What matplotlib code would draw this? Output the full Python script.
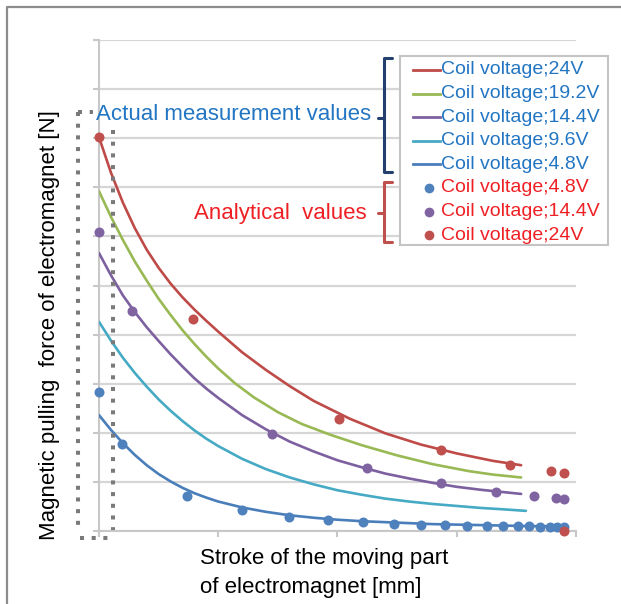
import matplotlib
matplotlib.use("Agg")
import matplotlib.pyplot as plt
from matplotlib.lines import Line2D
from matplotlib.patches import Rectangle

plt.rcParams['font.family'] = ['Liberation Sans', 'DejaVu Sans']

W, H = 621, 604

m24_x = [0, 1, 2, 3, 4, 5, 6, 7, 8, 9, 10, 12, 14, 16, 18, 21, 24, 27, 30, 33, 35.4]
m24_y = [80.2, 73.0, 66.9, 61.7, 57.3, 53.6, 50.4, 47.6, 45.1, 42.8, 40.6, 36.4, 32.8, 29.5,
         26.5, 22.9, 19.9, 17.6, 15.8, 14.3, 13.4]

m192_x = [0, 1, 2, 3, 4, 5, 6, 7, 8, 9, 10, 11.4, 13, 15, 17, 19.4, 22, 25, 28, 31, 33, 35.4]
m192_y = [69.2, 64.0, 59.3, 54.9, 51.0, 47.3, 44.0, 40.9, 38.1, 35.5, 33.1, 30.1, 27.2, 24.2,
          21.8, 19.6, 17.5, 15.4, 13.6, 12.2, 11.5, 10.9]

m144_x = [0, 1, 2, 3, 4, 5, 6, 7, 8, 9, 10, 12, 14, 16, 18, 20, 22, 24, 26, 28, 30, 32, 34, 35.4]
m144_y = [56.6, 52.1, 48.0, 44.6, 41.5, 38.7, 36.0, 33.5, 31.1, 29.0, 27.1, 23.6, 20.7, 18.2,
          16.2, 14.4, 13.0, 11.7, 10.7, 9.8, 9.0, 8.4, 7.9, 7.55]

m96_x = [0, 1, 2, 3, 4, 5, 6, 7, 8, 9, 10, 12, 14, 16, 18, 20, 22, 24, 26, 28, 30, 32, 34, 35.8]
m96_y = [42.6, 38.8, 35.3, 32.2, 29.4, 26.8, 24.5, 22.4, 20.5, 18.8, 17.3, 14.7, 12.6, 10.9,
         9.5, 8.3, 7.4, 6.6, 6.0, 5.5, 5.1, 4.7, 4.4, 4.1]

m48_x = [0, 1, 2, 3, 4, 5, 6, 7, 8, 9, 10, 12, 14, 16, 18, 20, 22, 24, 26, 28, 30, 32, 34, 36, 39]
m48_y = [23.6, 20.6, 17.9, 15.5, 13.4, 11.6, 10.1, 8.8, 7.7, 6.8, 6.0, 4.8, 3.9, 3.2, 2.7,
         2.3, 2.0, 1.8, 1.6, 1.4, 1.3, 1.2, 1.1, 1.0, 0.95]

# === analytical points ===
a48_x = [0, 1.9, 7.4, 12.0, 15.9, 19.2, 22.1, 24.7, 27.0, 29.0, 30.9, 32.5, 33.9, 35.1, 36.1, 37.0, 37.8, 38.4, 39.0]
a48_y = [28.4, 17.7, 7.2, 4.3, 2.9, 2.2, 1.8, 1.4, 1.3, 1.2, 1.1, 1.05, 1.0, 1.0, 0.95, 0.9, 0.9, 0.9, 0.9]

a144_x = [0, 2.74, 14.5, 22.5, 28.7, 33.3, 36.5, 38.3, 39.0]
a144_y = [60.8, 44.9, 19.8, 12.8, 9.7, 8.0, 7.1, 6.7, 6.5]

a24_x = [0, 7.9, 20.1, 28.7, 34.5, 37.9, 39.0, 39.0]
a24_y = [80.2, 43.1, 22.8, 16.4, 13.4, 12.2, 11.8, 0.0]

line_labels = ['Coil voltage;24V', 'Coil voltage;19.2V', 'Coil voltage;14.4V',
               'Coil voltage;9.6V', 'Coil voltage;4.8V']
dot_labels = ['Coil voltage;4.8V', 'Coil voltage;14.4V', 'Coil voltage;24V']

line_colors = ['#BE4B48', '#98B954', '#7D60A0', '#46AAC5', '#4A7EBB']
dot_colors = ['#4F81BD', '#8064A2', '#C0504D']
BLUE_TXT = '#2275C2'
RED_TXT = '#EE2024'


def fx(px):
    return px / W


def fy(py):
    return 1 - py / H


fig = plt.figure(figsize=(W / 100, H / 100), dpi=100)
ax = fig.add_axes([fx(99), fy(531), 477 / W, 491 / H])

# === axes styling (Excel-like) ===
ax.set_xlim(0, 40)
ax.set_ylim(0, 100)
ax.set_xticks(range(0, 41, 10))
ax.set_yticks(range(0, 101, 10))
ax.tick_params(axis='both', direction='out', length=4, width=1.5, color='#c8c8c8',
               labelbottom=False, labelleft=False)
for s in ['top', 'right']:
    ax.spines[s].set_visible(False)
for s in ['left', 'bottom']:
    ax.spines[s].set_color('#c8c8c8')
    ax.spines[s].set_linewidth(1.5)
ax.grid(axis='y', color='#d6d6d6', linewidth=1.6)
ax.set_axisbelow(True)

# === measured curves ===
meas = [(m24_x, m24_y), (m192_x, m192_y), (m144_x, m144_y), (m96_x, m96_y), (m48_x, m48_y)]
for (xs, ys), c in zip(meas, line_colors):
    ax.plot(xs, ys, color=c, linewidth=1.9, zorder=3, solid_capstyle='round',
            solid_joinstyle='round')

# === analytical points ===
anal = [(a48_x, a48_y), (a144_x, a144_y), (a24_x, a24_y)]
for (xs, ys), c in zip(anal, dot_colors):
    ax.plot(xs, ys, linestyle='none', marker='o', markersize=7.2, color=c,
            markeredgewidth=0, zorder=4, clip_on=False)

# === outer frame (left and top only) ===
fig.add_artist(Line2D([fx(7), fx(7), fx(W)], [fy(H), fy(7), fy(7)],
                      color='#8c8c8c', linewidth=1.6))

# === dotted box around the start of stroke ===
dot_kw = dict(color='#7a7a7a', linewidth=2.9, linestyle=(0, (1, 1.9)), dash_capstyle='butt')
fig.add_artist(Line2D([fx(78), fx(78)], [fy(112), fy(530)], **dot_kw))
fig.add_artist(Line2D([fx(113), fx(113)], [fy(130), fy(530)], **dot_kw))
fig.add_artist(Line2D([fx(80), fx(112)], [fy(538), fy(538)], **dot_kw))
fig.add_artist(Line2D([fx(78), fx(93)], [fy(112), fy(112)], **dot_kw))


# === brackets ===
def bracket(top, bot, mid, color):
    kw = dict(color=color, linewidth=2.2, solid_capstyle='round', solid_joinstyle='round')
    fig.add_artist(Line2D([fx(392), fx(384), fx(384), fx(392)],
                          [fy(top), fy(top), fy(bot), fy(bot)], **kw))
    fig.add_artist(Line2D([fx(378), fx(384)], [fy(mid), fy(mid)], **kw))


bracket(58, 172, 118, '#24406F')
bracket(182, 242, 213, '#C0504D')

fig.text(fx(96), fy(115), 'Actual measurement values', fontsize=16, color=BLUE_TXT,
         ha='left', va='center')
fig.text(fx(367), fy(213), 'Analytical  values', fontsize=16, color=RED_TXT,
         ha='right', va='center')

# === legend (drawn by hand to keep the coloured labels) ===
fig.add_artist(Rectangle((fx(400), fy(245)), 208 / W, 189 / H, transform=fig.transFigure,
                         facecolor='white', edgecolor='#c4c4c4', linewidth=1.5, zorder=5))
row_y = 70
for lab, c in zip(line_labels, line_colors):
    fig.add_artist(Line2D([fx(413), fx(440)], [fy(row_y), fy(row_y)], color=c,
                          linewidth=2.0, zorder=6))
    fig.text(fx(441), fy(row_y), lab, fontsize=14, color=BLUE_TXT, ha='left',
             va='center', zorder=6)
    row_y += 23.6
for lab, c in zip(dot_labels, dot_colors):
    fig.add_artist(Line2D([fx(429)], [fy(row_y)], marker='o', markersize=7, color=c,
                          markeredgewidth=0, linestyle='none', zorder=6))
    fig.text(fx(441), fy(row_y), lab, fontsize=14, color=RED_TXT, ha='left',
             va='center', zorder=6)
    row_y += 23.6

# === axis titles ===
fig.text(fx(50), fy(325), 'Magnetic pulling  force of electromagnet [N]', fontsize=16,
         rotation=90, ha='center', va='center')
fig.text(fx(200), fy(573), 'Stroke of the moving part\nof electromagnet [mm]', fontsize=16,
         ha='left', va='center', linespacing=1.45)

fig.savefig('out.png', dpi=100)
